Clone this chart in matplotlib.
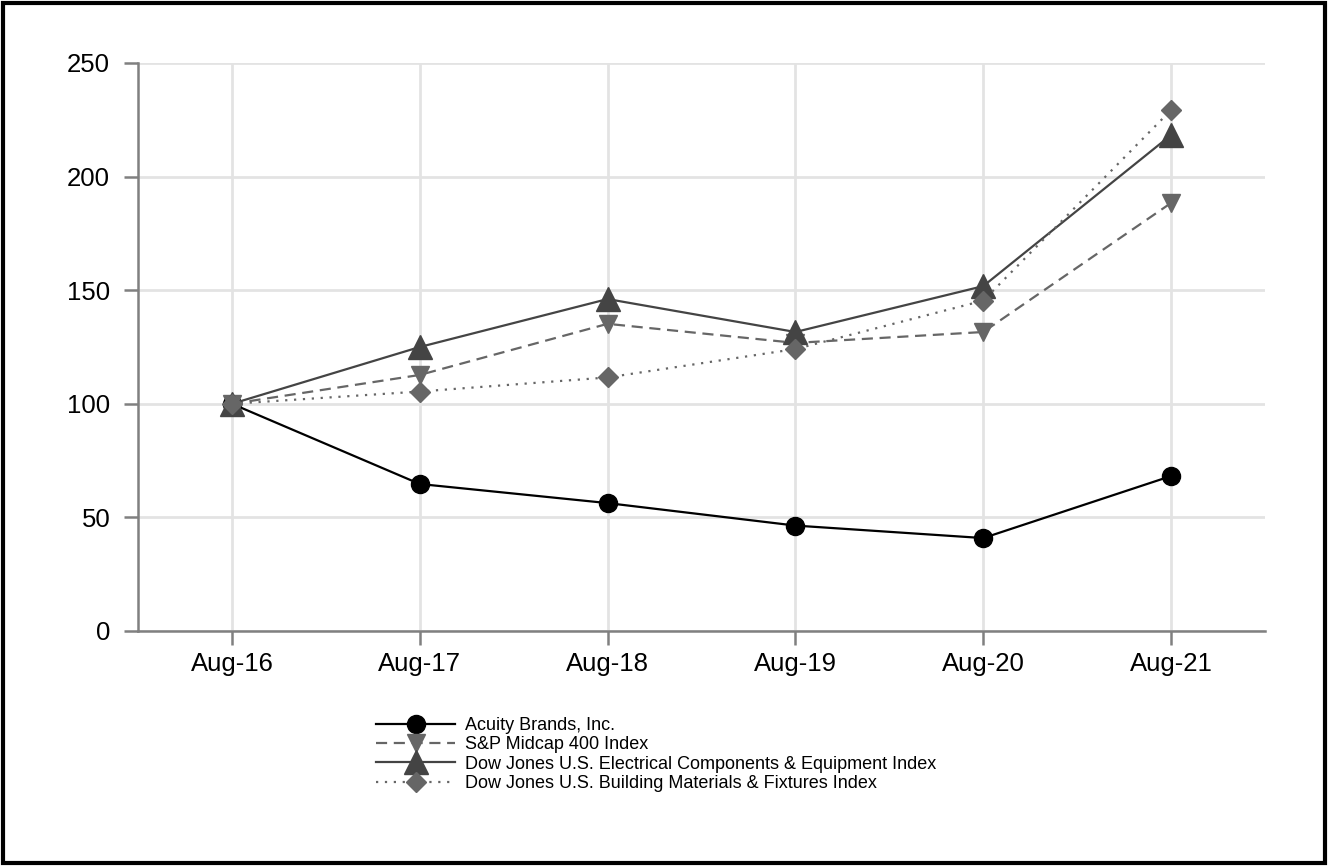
import matplotlib
matplotlib.use('Agg')
import matplotlib.pyplot as plt
from matplotlib.patches import Rectangle

plt.rcParams['font.family'] = ['Liberation Sans', 'DejaVu Sans']

# Data
periods = ['Aug-16', 'Aug-17', 'Aug-18', 'Aug-19', 'Aug-20', 'Aug-21']
acuity = [100, 64.7, 56.3, 46.4, 40.9, 68.2]
sp_midcap = [100, 112.7, 135.2, 126.8, 131.6, 188.4]
dj_electrical = [100, 125.0, 146.1, 131.6, 151.8, 218.3]
dj_building = [100, 105.4, 111.6, 124.1, 145.4, 229.3]
y_ticks = [0, 50, 100, 150, 200, 250]

fig = plt.figure(figsize=(13.28, 8.66), dpi=100)
ax = fig.add_axes([138 / 1328, 1 - 631 / 866, (1265 - 138) / 1328, (631 - 63) / 866])

x = list(range(len(periods)))

ax.plot(x, acuity, color='black', linewidth=1.6, marker='o', markersize=13,
        markerfacecolor='black', markeredgecolor='black', label='Acuity Brands, Inc.', zorder=3)
ax.plot(x, sp_midcap, color='#666666', linewidth=1.6, linestyle=(0, (5, 3)), marker='v', markersize=13,
        markerfacecolor='#666666', markeredgecolor='#666666', label='S&P Midcap 400 Index', zorder=3)
ax.plot(x, dj_electrical, color='#444444', linewidth=1.6, marker='^', markersize=17,
        markerfacecolor='#444444', markeredgecolor='#444444',
        label='Dow Jones U.S. Electrical Components & Equipment Index', zorder=3)
ax.plot(x, dj_building, color='#666666', linewidth=1.6, linestyle=(0, (1, 3)), marker='D', markersize=10,
        markerfacecolor='#666666', markeredgecolor='#666666',
        label='Dow Jones U.S. Building Materials & Fixtures Index', zorder=3)

ax.set_xlim(-0.5, 5.5)
ax.set_ylim(0, 250)
ax.set_xticks(x)
ax.set_xticklabels(periods)
ax.set_yticks(y_ticks)

ax.grid(True, color='#e3e3e3', linewidth=2, zorder=0)
ax.set_axisbelow(True)

for s in ('top', 'right'):
  ax.spines[s].set_visible(False)
for s in ('left', 'bottom'):
  ax.spines[s].set_color('#808080')
  ax.spines[s].set_linewidth(1.8)

ax.tick_params(axis='both', direction='out', length=10, width=1.8, color='#808080',
               labelsize=18.5, labelcolor='black')
ax.tick_params(axis='x', pad=5)
ax.tick_params(axis='y', pad=10)

fig.legend(loc='upper left', bbox_to_anchor=(376 / 1328, 1 - 717 / 866), frameon=False,
           fontsize=13, handlelength=4.4, handletextpad=0.55, labelspacing=0.13,
           borderpad=0, borderaxespad=0)

# outer frame
fig.patches.append(Rectangle((0.002, 0.003), 0.996, 0.994, transform=fig.transFigure,
                             fill=False, edgecolor='black', linewidth=3))

fig.savefig('out.png', dpi=100)
